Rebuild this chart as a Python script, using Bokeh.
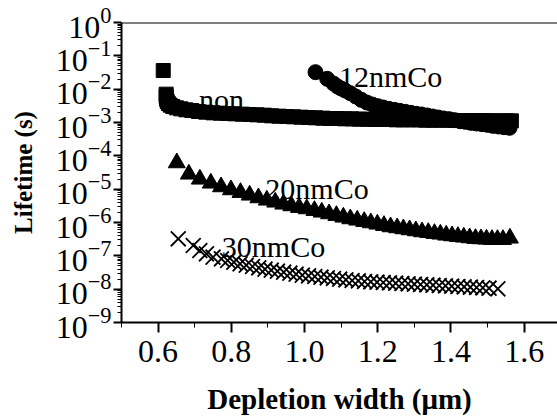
from bokeh.plotting import figure
from bokeh.models import FixedTicker, PrintfTickFormatter, Range1d, ColumnDataSource, Span
from bokeh.core.properties import value
from bokeh.embed import file_html
from bokeh.resources import INLINE

# ---- data (depletion width in um, lifetime as log10 of seconds) ----
non_x = [0.614, 0.622, 0.622, 0.623, 0.625, 0.628, 0.633, 0.640, 0.650, 0.662, 0.676, 0.692, 0.710,
         0.730, 0.750, 0.770, 0.790, 0.810, 0.830, 0.850, 0.870, 0.890, 0.910,
         0.930, 0.950, 0.970, 0.990, 1.010, 1.030, 1.050, 1.070, 1.090, 1.110,
         1.130, 1.150, 1.170, 1.190, 1.210, 1.230, 1.250, 1.270, 1.290, 1.310,
         1.330, 1.350, 1.370, 1.390, 1.410, 1.430, 1.450, 1.470, 1.490, 1.510,
         1.530, 1.550, 1.565]
non_log = [-1.44, -2.15, -2.22, -2.30, -2.37, -2.43, -2.48, -2.52, -2.56, -2.59, -2.62, -2.64, -2.67,
           -2.69, -2.71, -2.72, -2.73, -2.74, -2.75, -2.76, -2.77, -2.78, -2.80,
           -2.81, -2.82, -2.83, -2.84, -2.85, -2.86, -2.87, -2.88, -2.88, -2.89,
           -2.89, -2.90, -2.90, -2.91, -2.91, -2.91, -2.92, -2.92, -2.92, -2.92,
           -2.93, -2.93, -2.93, -2.93, -2.94, -2.94, -2.94, -2.94, -2.94, -2.95,
           -2.95, -2.95, -2.95]

co12_x = [1.030, 1.062, 1.079, 1.090, 1.100, 1.111,
          1.125, 1.140, 1.155, 1.170, 1.185, 1.200, 1.215, 1.230, 1.245, 1.260,
          1.275, 1.290, 1.305, 1.320, 1.335, 1.350, 1.365, 1.380, 1.395, 1.410,
          1.425, 1.440, 1.455, 1.470, 1.485, 1.500, 1.515, 1.530, 1.545, 1.560]
co12_log = [-1.49, -1.69, -1.83, -1.92, -1.98, -2.04,
            -2.12, -2.22, -2.32, -2.40, -2.46, -2.51, -2.55, -2.59, -2.62, -2.65,
            -2.68, -2.71, -2.74, -2.76, -2.79, -2.82, -2.85, -2.88, -2.90, -2.93,
            -2.96, -2.98, -3.01, -3.03, -3.05, -3.07, -3.10, -3.12, -3.14, -3.16]

co20_x = [0.651, 0.684, 0.714, 0.744, 0.772, 0.799, 0.825, 0.850, 0.874, 0.897,
          0.920, 0.942, 0.964, 0.985, 1.006, 1.027, 1.047, 1.067, 1.087, 1.106,
          1.125, 1.144, 1.163, 1.181, 1.199, 1.217, 1.235, 1.253, 1.270, 1.287,
          1.304, 1.321, 1.338, 1.355, 1.371, 1.387, 1.403, 1.419, 1.435, 1.451,
          1.467, 1.482, 1.497, 1.512, 1.527, 1.542, 1.561]
co20_log = [-4.21, -4.55, -4.70, -4.82, -4.93, -5.02, -5.10, -5.18, -5.26, -5.33,
            -5.39, -5.45, -5.50, -5.55, -5.59, -5.64, -5.69, -5.74, -5.79, -5.84,
            -5.89, -5.93, -5.97, -6.01, -6.05, -6.09, -6.13, -6.16, -6.19, -6.22,
            -6.25, -6.28, -6.30, -6.33, -6.35, -6.38, -6.40, -6.42, -6.44, -6.46,
            -6.48, -6.49, -6.50, -6.51, -6.51, -6.51, -6.47]

co30_x = [0.655, 0.696, 0.714, 0.732, 0.750, 0.773,
          0.790, 0.807, 0.824, 0.841, 0.858, 0.875, 0.892, 0.909, 0.926, 0.943,
          0.960, 0.977, 0.994, 1.011, 1.028, 1.045, 1.062, 1.079, 1.096, 1.113,
          1.130, 1.147, 1.164, 1.181, 1.198, 1.215, 1.232, 1.249, 1.266, 1.283,
          1.300, 1.317, 1.334, 1.351, 1.368, 1.385, 1.402, 1.419, 1.436, 1.453,
          1.470, 1.487, 1.504, 1.528]
co30_log = [-6.49, -6.69, -6.84, -6.94, -7.04, -7.09,
            -7.14, -7.19, -7.24, -7.28, -7.32, -7.36, -7.40, -7.43, -7.46, -7.49,
            -7.52, -7.55, -7.58, -7.60, -7.62, -7.64, -7.66, -7.68, -7.70, -7.72,
            -7.74, -7.75, -7.77, -7.78, -7.79, -7.80, -7.81, -7.82, -7.83, -7.84,
            -7.85, -7.86, -7.87, -7.88, -7.89, -7.90, -7.91, -7.92, -7.93, -7.94,
            -7.95, -7.96, -7.97, -7.99]

label_text = ["non", "12nmCo", "20nmCo", "30nmCo"]
label_x = [0.712, 1.094, 0.893, 0.774]
label_log = [-2.31, -1.63, -4.97, -6.72]

x_ticks = [0.6, 0.8, 1.0, 1.2, 1.4, 1.6]
x_minor = [0.5, 0.7, 0.9, 1.1, 1.3, 1.5, 1.7]
y_exponents = list(range(-9, 1))

FONT = "Liberation Serif"

def lin(v):
    return [10 ** e for e in v]

p = figure(width=557, height=417, output_backend="svg", toolbar_location=None,
           y_axis_type="log", x_range=Range1d(0.5, 1.691), y_range=Range1d(1e-9, 1.0),
           min_border_left=121, min_border_top=22, min_border_right=0, min_border_bottom=95)
p.outline_line_color = None
p.grid.visible = False
p.background_fill_color = "white"

p.scatter(non_x, lin(non_log), marker="square", size=14, color="black")
p.scatter(co12_x, lin(co12_log), marker="circle", size=15, color="black")
p.scatter(co20_x, lin(co20_log), marker="triangle", size=17, color="black")
p.scatter(co30_x, lin(co30_log), marker="x", size=21, line_color="black", line_width=1.8)

src = ColumnDataSource(dict(x=label_x, y=lin(label_log), t=label_text))
p.text(x="x", y="y", text="t", source=src, text_font=value(FONT), text_font_size="30px",
       text_baseline="alphabetic", text_align="left", text_color="black")

# top frame line
p.add_layout(Span(location=1.0, dimension="width", line_color="black", line_width=2))

# x axis
xa = p.xaxis[0]
xa.ticker = FixedTicker(ticks=x_ticks, minor_ticks=x_minor)
xa.formatter = PrintfTickFormatter(format="%.1f")
xa.axis_label = "Depletion width (\u03bcm)"
# y axis
ya = p.yaxis[0]
ya.ticker = FixedTicker(ticks=[10.0 ** e for e in y_exponents],
                        minor_ticks=[k * 10.0 ** e for e in y_exponents[:-1] for k in range(2, 10)])
ya.axis_label = "Lifetime (s)"

for ax in (xa, ya):
    ax.axis_line_width = 2
    ax.axis_line_color = "black"
    ax.major_tick_line_width = 2
    ax.minor_tick_line_width = 1
    ax.major_tick_line_color = "black"
    ax.minor_tick_line_color = "black"
    ax.major_tick_in = 0
    ax.minor_tick_in = 0
    ax.major_label_text_font = FONT
    ax.major_label_text_font_size = "32px"
    ax.major_label_text_color = "black"
    ax.axis_label_text_font = FONT
    ax.axis_label_text_font_style = "bold"
    ax.axis_label_text_color = "black"

xa.axis_label_text_font_size = "29px"
ya.axis_label_text_font_size = "25px"
xa.major_tick_out = 10
xa.minor_tick_out = 5
xa.major_label_standoff = 8
xa.axis_label_standoff = 18
ya.major_tick_out = 8
ya.minor_tick_out = 4
ya.major_label_standoff = 2
ya.axis_label_standoff = 16

open("out.html", "w").write(file_html(p, INLINE))
